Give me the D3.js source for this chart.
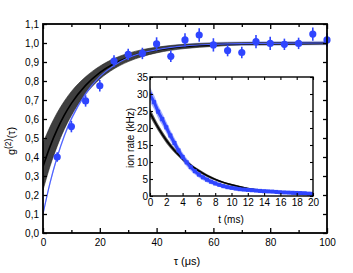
<!DOCTYPE html>
<html>
<head>
<meta charset="utf-8">
<script src="https://cdn.jsdelivr.net/npm/d3@7"></script>
<style>
  body { margin: 0; background: #fff; }
  svg { display: block; font-family: 'Liberation Sans', Arial, sans-serif; }
</style>
</head>
<body>
<div id="chart"></div>
<script>
// main plot: g2 measurements
const tau = [5, 10, 15, 20, 25, 30, 35, 40, 45, 50, 55, 60, 65, 70, 75, 80, 85, 90, 95, 100]
const g2 = [0.40, 0.56, 0.695, 0.775, 0.905, 0.94, 0.945, 0.995, 0.93, 1.016, 1.042, 0.99, 0.96, 0.95, 1.007, 0.998, 0.993, 0.998, 1.047, 1.016]
const g2Err = [0.025, 0.03, 0.03, 0.03, 0.03, 0.03, 0.03, 0.035, 0.03, 0.035, 0.035, 0.035, 0.03, 0.03, 0.035, 0.035, 0.03, 0.03, 0.035, 0.035]

// fitted curves
const fitTau = [0, 2.5, 5, 7.5, 10, 15, 20, 25, 30, 35, 40, 50, 60, 70, 80, 100]
const fitMid = [0.350, 0.456, 0.545, 0.620, 0.682, 0.777, 0.844, 0.891, 0.924, 0.947, 0.963, 0.982, 0.991, 0.996, 0.997, 0.999]
const fitHi = [0.474, 0.560, 0.633, 0.694, 0.745, 0.822, 0.878, 0.918, 0.946, 0.965, 0.978, 0.993, 1.000, 1.002, 1.003, 1.004]
const fitLo = [0.226, 0.352, 0.457, 0.546, 0.619, 0.732, 0.810, 0.864, 0.902, 0.929, 0.948, 0.971, 0.982, 0.990, 0.991, 0.994]
const blueFit = [0.10, 0.265, 0.400, 0.511, 0.601, 0.734, 0.823, 0.882, 0.922, 0.948, 0.965, 0.985, 0.993, 0.997, 0.998, 1.000]

const xTicks = [0, 20, 40, 60, 80, 100]
const xMinor = [10, 30, 50, 70, 90]
const yTicks = [0, 0.1, 0.2, 0.3, 0.4, 0.5, 0.6, 0.7, 0.8, 0.9, 1.0, 1.1]

// inset: ion rate
const tMs = [0, 0.5, 1, 1.5, 2, 2.5, 3, 3.5, 4, 4.5, 5, 5.5, 6, 6.5, 7, 7.5, 8, 8.5, 9, 9.5, 10,
  10.5, 11, 11.5, 12, 12.5, 13, 13.5, 14, 14.5, 15, 15.5, 16, 16.5, 17, 17.5, 18, 18.5, 19, 19.5, 20]
const rate = [29.8, 27.6, 24.8, 22.6, 20.2, 17.8, 15.6, 13.4, 11.5, 9.9, 8.5, 7.3, 6.3, 5.5, 4.8, 4.2, 3.7, 3.3, 2.9, 2.6, 2.4,
  2.2, 2.0, 1.9, 1.8, 1.7, 1.6, 1.5, 1.4, 1.35, 1.3, 1.2, 1.1, 1.05, 1.0, 0.95, 0.9, 0.85, 0.8, 0.7, 0.65]
const rateErr = [2.2, 2.0, 1.9, 1.8, 1.7, 1.6, 1.5, 1.4, 1.3, 1.2, 1.1, 1.0, 0.9, 0.85, 0.8, 0.75, 0.7, 0.65, 0.6, 0.6, 0.55,
  0.55, 0.5, 0.5, 0.5, 0.5, 0.45, 0.45, 0.45, 0.45, 0.45, 0.4, 0.4, 0.4, 0.4, 0.4, 0.4, 0.4, 0.4, 0.4, 0.4]
const inFitT = [0, 1, 2, 3, 4, 5, 6, 7, 8, 9, 10, 12, 14, 16, 18, 20]
const inFit = [24.5, 20.1, 16.4, 13.4, 11.0, 9.0, 7.4, 6.0, 4.9, 4.0, 3.3, 2.2, 1.5, 1.0, 0.67, 0.45]
const inFitHi = [25.7, 21.1, 17.25, 14.1, 11.6, 9.5, 7.85, 6.4, 5.25, 4.3, 3.6, 2.45, 1.7, 1.2, 0.87, 0.65]
const inFitLo = [23.3, 19.1, 15.55, 12.7, 10.4, 8.5, 6.95, 5.6, 4.55, 3.7, 3.0, 1.95, 1.3, 0.8, 0.47, 0.25]
const inXTicks = [0, 2, 4, 6, 8, 10, 12, 14, 16, 18, 20]
const inYTicks = [0, 5, 10, 15, 20, 25, 30, 35]

const blue = '#2f45ff'
const band = '#3f3f3f'
const W = 353, H = 273

const svg = d3.select('#chart')
  .append('svg')
  .attr('width', W)
  .attr('height', H)
  .style('background-color', '#ffffff')

const x = d3.scaleLinear().domain([0, 100]).range([43, 327])
const y = d3.scaleLinear().domain([0, 1.1]).range([233, 24])
const comma = d => d3.format('.1f')(d).replace('.', ',')

const main = svg.append('g').attr('clip-path', 'url(#mainClip)')
svg.append('clipPath').attr('id', 'mainClip')
  .append('rect').attr('x', 43).attr('y', 24).attr('width', 284).attr('height', 209)

const fitRows = fitTau.map((t, i) => ({ t, mid: fitMid[i], hi: fitHi[i], lo: fitLo[i], b: blueFit[i] }))

// blue fit shading + line
main.append('path')
  .datum(fitRows)
  .attr('d', d3.area().curve(d3.curveMonotoneX).x(d => x(d.t)).y0(d => y(d.b - 0.012)).y1(d => y(d.b + 0.012)))
  .style('fill', '#7d8cff')
  .style('opacity', 0.45)

// black band
main.append('path')
  .datum(fitRows)
  .attr('d', d3.area().curve(d3.curveMonotoneX).x(d => x(d.t)).y0(d => y(d.lo)).y1(d => y(d.hi)))
  .style('fill', band)
  .style('stroke', '#222')
  .style('stroke-width', 0.6)

main.append('path')
  .datum(fitRows)
  .attr('d', d3.line().curve(d3.curveMonotoneX).x(d => x(d.t)).y(d => y(d.mid)))
  .style('fill', 'none')
  .style('stroke', '#000')
  .style('stroke-width', 1.6)

main.append('path')
  .datum(fitRows)
  .attr('d', d3.line().curve(d3.curveMonotoneX).x(d => x(d.t)).y(d => y(d.b)))
  .style('fill', 'none')
  .style('stroke', '#4f63ff')
  .style('stroke-width', 1.2)

// data points
const pts = tau.map((t, i) => ({ t, v: g2[i], e: g2Err[i] }))
const pg = svg.append('g').selectAll('g.pt').data(pts).enter()
  .append('g')
  .classed('pt', true)

pg.append('line')
  .attr('x1', d => x(d.t)).attr('x2', d => x(d.t))
  .attr('y1', d => y(d.v - d.e)).attr('y2', d => y(d.v + d.e))
  .style('stroke', blue)
  .style('stroke-width', 1.6)

pg.append('circle')
  .attr('cx', d => x(d.t))
  .attr('cy', d => y(d.v))
  .attr('r', 3.6)
  .style('fill', blue)

// main axes
const axes = svg.append('g').style('font-size', '11px')

axes.append('g')
  .attr('transform', 'translate(0,233)')
  .call(d3.axisBottom(x).tickValues(xTicks).tickSizeInner(-5).tickSizeOuter(0).tickPadding(6).tickFormat(d3.format('d')))
axes.append('g')
  .attr('transform', 'translate(0,233)')
  .call(d3.axisBottom(x).tickValues(xMinor).tickSizeInner(-3).tickSizeOuter(0).tickFormat(''))
axes.append('g')
  .attr('transform', 'translate(0,24)')
  .call(d3.axisTop(x).tickValues(xTicks).tickSizeInner(-5).tickSizeOuter(0).tickFormat(''))
axes.append('g')
  .attr('transform', 'translate(0,24)')
  .call(d3.axisTop(x).tickValues(xMinor).tickSizeInner(-3).tickSizeOuter(0).tickFormat(''))
axes.append('g')
  .attr('transform', 'translate(43,0)')
  .call(d3.axisLeft(y).tickValues(yTicks).tickSizeInner(-4).tickSizeOuter(0).tickPadding(4).tickFormat(comma))
axes.append('g')
  .attr('transform', 'translate(327,0)')
  .call(d3.axisRight(y).tickValues(yTicks).tickSizeInner(-4).tickSizeOuter(0).tickFormat(''))

axes.selectAll('.domain').remove()
axes.selectAll('.tick line').style('stroke', '#000').style('stroke-width', 1.3)
axes.selectAll('.tick text').style('fill', '#000').style('font-family', "'Liberation Sans', Arial, sans-serif")

axes.append('rect')
  .attr('x', 43).attr('y', 24).attr('width', 284).attr('height', 209)
  .style('fill', 'none')
  .style('stroke', '#000')
  .style('stroke-width', 1.8)

const yl = svg.append('text')
  .attr('transform', 'translate(15,141) rotate(-90)')
  .attr('text-anchor', 'middle')
  .style('font-size', '11px')
yl.append('tspan').text('g')
yl.append('tspan').attr('dy', -4).style('font-size', '8.5px').text('(2)')
yl.append('tspan').attr('dy', 4).text('(τ)')

svg.append('text')
  .attr('x', 187).attr('y', 265)
  .attr('text-anchor', 'middle')
  .style('font-size', '11px')
  .text('τ (μs)')

// inset
const ix = d3.scaleLinear().domain([0, 20]).range([150, 313])
const iy = d3.scaleLinear().domain([0, 35]).range([196, 77])

svg.append('rect')
  .attr('x', 150).attr('y', 77).attr('width', 163).attr('height', 119)
  .style('fill', '#fff')

svg.append('clipPath').attr('id', 'inClip')
  .append('rect').attr('x', 150).attr('y', 77).attr('width', 163).attr('height', 119)
const inset = svg.append('g').attr('clip-path', 'url(#inClip)')

const rows = tMs.map((t, i) => ({ t, v: rate[i], e: rateErr[i] }))
inset.append('path')
  .datum(rows)
  .attr('d', d3.area().curve(d3.curveMonotoneX).x(d => ix(d.t)).y0(d => iy(d.v - d.e)).y1(d => iy(d.v + d.e)))
  .style('fill', '#7f8fff')
  .style('opacity', 0.7)

const inRows = inFitT.map((t, i) => ({ t, v: inFit[i], hi: inFitHi[i], lo: inFitLo[i] }))
inset.append('path')
  .datum(inRows)
  .attr('d', d3.area().curve(d3.curveMonotoneX).x(d => ix(d.t)).y0(d => iy(d.lo)).y1(d => iy(d.hi)))
  .style('fill', '#555')
inset.append('path')
  .datum(inRows)
  .attr('d', d3.line().curve(d3.curveMonotoneX).x(d => ix(d.t)).y(d => iy(d.v)))
  .style('fill', 'none')
  .style('stroke', '#000')
  .style('stroke-width', 1.5)

inset.append('path')
  .datum(rows)
  .attr('d', d3.line().curve(d3.curveMonotoneX).x(d => ix(d.t)).y(d => iy(d.v)))
  .style('fill', 'none')
  .style('stroke', blue)
  .style('stroke-width', 3)

inset.selectAll('rect.m').data(rows).enter()
  .append('rect')
  .classed('m', true)
  .attr('x', d => ix(d.t) - 2)
  .attr('y', d => iy(d.v) - 2)
  .attr('width', 4)
  .attr('height', 4)
  .style('fill', blue)

const iax = svg.append('g').style('font-size', '10px')
iax.append('g')
  .attr('transform', 'translate(0,196)')
  .call(d3.axisBottom(ix).tickValues(inXTicks).tickSizeInner(-3).tickSizeOuter(0).tickPadding(3).tickFormat(d3.format('d')))
iax.append('g')
  .attr('transform', 'translate(0,77)')
  .call(d3.axisTop(ix).tickValues(inXTicks).tickSizeInner(-3).tickSizeOuter(0).tickFormat(''))
iax.append('g')
  .attr('transform', 'translate(150,0)')
  .call(d3.axisLeft(iy).tickValues(inYTicks).tickSizeInner(-3).tickSizeOuter(0).tickPadding(2).tickFormat(d3.format('d')))
iax.append('g')
  .attr('transform', 'translate(313,0)')
  .call(d3.axisRight(iy).tickValues(inYTicks).tickSizeInner(-3).tickSizeOuter(0).tickFormat(''))

iax.selectAll('.domain').remove()
iax.selectAll('.tick line').style('stroke', '#000').style('stroke-width', 1.1)
iax.selectAll('.tick text').style('fill', '#000').style('font-family', "'Liberation Sans', Arial, sans-serif")

iax.append('rect')
  .attr('x', 150).attr('y', 77).attr('width', 163).attr('height', 119)
  .style('fill', 'none')
  .style('stroke', '#000')
  .style('stroke-width', 1.4)

svg.append('text')
  .attr('x', 231).attr('y', 223)
  .attr('text-anchor', 'middle')
  .style('font-size', '10px')
  .text('t (ms)')

svg.append('text')
  .attr('transform', 'translate(134,138) rotate(-90)')
  .attr('text-anchor', 'middle')
  .style('font-size', '10px')
  .text('ion rate (kHz)')
</script>
</body>
</html>
